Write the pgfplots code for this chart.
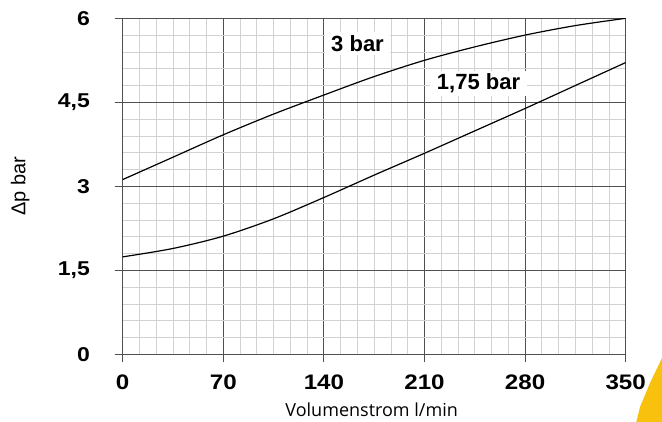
\documentclass[border=0pt]{standalone}
\usepackage{fontspec}
\setmainfont{Liberation Sans}
\newfontfamily\tickfont{Liberation Sans}[FakeStretch=1.15]
\newfontfamily\labfont{Open Sans}
\usepackage{pgfplots}
\pgfplotsset{compat=1.18}
\definecolor{majgrid}{RGB}{80,80,80}
\definecolor{mingrid}{RGB}{210,210,210}
\definecolor{ecke}{RGB}{247,193,14}

\begin{document}
\begin{tikzpicture}
\useasboundingbox (-122.7pt,-66.7pt) rectangle (539.3pt,354.3pt);
% gelbe Ecke unten rechts
\fill[ecke] (539.3pt,-3.7pt) -- (527.3pt,-28.7pt) -- (517.3pt,-52.7pt) -- (513pt,-70pt)
  -- (545pt,-70pt) -- (545pt,-3.7pt) -- cycle;
\begin{axis}[
  scale only axis,
  width=503pt, height=336pt,
  xmin=0, xmax=350, ymin=0, ymax=6,
  xtick={0,70,140,210,280,350},
  xticklabels={0,70,140,210,280,350},
  ytick={0,1.5,3,4.5,6},
  yticklabels={0,{1,5},3,{4,5},6},
  minor x tick num=5,
  minor y tick num=4,
  grid=both,
  major grid style={majgrid, line width=1pt},
  minor grid style={mingrid, line width=0.8pt},
  axis line style={majgrid, line width=1pt},
  tick pos=left,
  tick align=outside,
  major tick length=8pt,
  minor tick length=0pt,
  tick style={majgrid, line width=1pt},
  xticklabel style={font=\tickfont\bfseries\fontsize{21}{21}\selectfont, inner sep=0pt, anchor=north, yshift=-12.7pt},
  yticklabel style={font=\tickfont\bfseries\fontsize{20}{20}\selectfont, inner sep=0pt, anchor=east, xshift=-24.7pt},
  xlabel={Volumenstrom l/min},
  ylabel={Δp bar},
  xlabel style={font=\labfont\fontsize{18}{18}\selectfont, at={(axis description cs:0.495,-0.166)}, anchor=center},
  ylabel style={font=\fontsize{20}{20}\selectfont, at={(axis description cs:-0.204,0.5)}, anchor=center},
]
% 3 bar
\addplot[smooth, black, line width=1.2pt] coordinates {
  (0,3.12) (35,3.52) (70,3.92) (105,4.29) (140,4.63) (175,4.96)
  (210,5.25) (245,5.49) (280,5.70) (315,5.87) (350,6.0)
};
% 1,75 bar
\addplot[smooth, black, line width=1.2pt] coordinates {
  (0,1.74) (35,1.89) (70,2.11) (105,2.42) (140,2.80) (175,3.20)
  (210,3.59) (245,3.99) (280,4.39) (315,4.80) (350,5.21)
};
\node[fill=white, inner xsep=6pt, inner ysep=3pt, font=\bfseries\fontsize{22}{22}\selectfont]
  at (axis cs:163.4,5.55) {3 bar};
\node[fill=white, inner xsep=7pt, inner ysep=3pt, font=\bfseries\fontsize{22}{22}\selectfont]
  at (axis cs:247.6,4.84) {1,75 bar};
\end{axis}
\end{tikzpicture}
\end{document}
